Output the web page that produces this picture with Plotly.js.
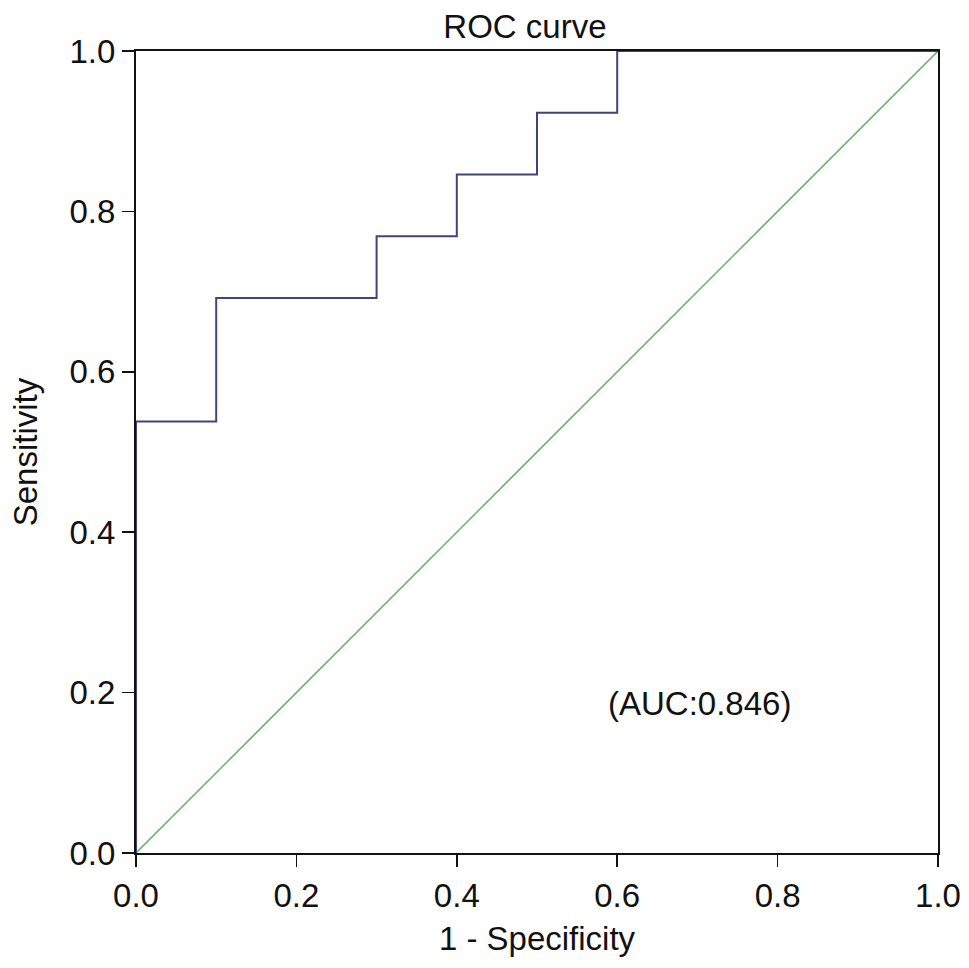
<!DOCTYPE html>
<html>
<head>
<meta charset="utf-8">
<script src="https://cdn.plot.ly/plotly-3.0.1.min.js"></script>
<style>
  html, body { margin: 0; padding: 0; background: #fff; }
  #chart { width: 969px; height: 968px; }
</style>
</head>
<body>
<div id="chart"></div>
<script>
// ROC steps (1 - specificity, sensitivity)
const fpr = [0, 0, 0.1, 0.1, 0.3, 0.3, 0.4, 0.4, 0.5, 0.5, 0.6, 0.6, 1.0];
const tpr = [0, 0.538, 0.538, 0.692, 0.692, 0.769, 0.769, 0.846, 0.846, 0.923, 0.923, 1.0, 1.0];
const refX = [0, 1];
const refY = [0, 1];
const aucText = '(AUC:0.846)';
const tickVals = [0, 0.2, 0.4, 0.6, 0.8, 1.0];

function plotROC(el){

    let trace = {
        x: fpr,
        y: tpr,
        mode: 'lines',
        type: 'scatter',
        line: {color: '#3d4579', width: 2},
        hoverinfo: 'skip'
    };

    let trace2 = {
        x: refX,
        y: refY,
        mode: 'lines',
        type: 'scatter',
        line: {color: '#72b572', width: 1.6},
        hoverinfo: 'skip'
    };

    const fnt = {family: 'Liberation Sans, Arial, sans-serif', size: 33, color: '#111'};

    const layout = {
        width: 969,
        height: 968,
        showlegend: false,
        paper_bgcolor: '#fff',
        plot_bgcolor: '#fff',
        margin: {l: 136, r: 31, t: 51, b: 115},
        font: fnt,
        title: {
            text: 'ROC curve',
            font: fnt,
            x: 0.485, xref: 'paper', xanchor: 'center',
            y: 0.973, yref: 'container', yanchor: 'middle'
        },
        xaxis: {
            range: [0, 1],
            tickvals: tickVals,
            tickformat: '.1f',
            ticks: 'outside',
            ticklen: 12,
            tickwidth: 1.5,
            tickcolor: '#111',
            showline: true,
            linecolor: '#111',
            linewidth: 2,
            mirror: true,
            showgrid: false,
            zeroline: false,
            tickfont: fnt,
            title: {text: '1 - Specificity', font: fnt, standoff: 14}
        },
        yaxis: {
            range: [0, 1],
            tickvals: tickVals,
            tickformat: '.1f',
            ticks: 'outside',
            ticklen: 12,
            tickwidth: 1.5,
            tickcolor: '#111',
            showline: true,
            linecolor: '#111',
            linewidth: 2,
            mirror: true,
            showgrid: false,
            zeroline: false,
            tickfont: fnt,
            title: {text: 'Sensitivity', font: fnt, standoff: 22}
        },
        annotations: [{
            x: 0.703, y: 0.187,
            xref: 'x', yref: 'y',
            text: aucText,
            showarrow: false,
            font: fnt
        }]
    };

    var plt = [trace2, trace];

    Plotly.newPlot(el, plt, layout, {staticPlot: true});
}

plotROC('chart');
</script>
</body>
</html>
